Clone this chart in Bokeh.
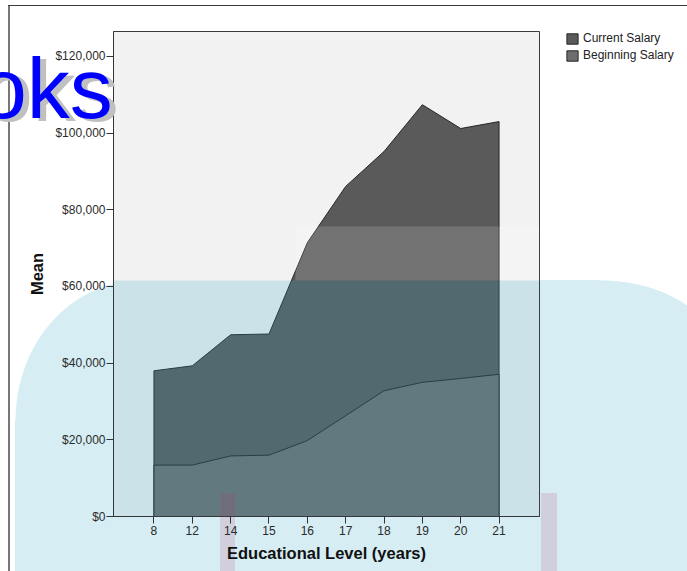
from bokeh.plotting import figure
from bokeh.layouts import column
from bokeh.models import (FixedTicker, NumeralTickFormatter, Legend, LegendItem,
                          Range1d, BoxAnnotation, Div)
from bokeh.embed import file_html
from bokeh.resources import INLINE

# ---- data ----
levels = ["8", "12", "14", "15", "16", "17", "18", "19", "20", "21"]
current_salary = [38000, 39300, 47400, 47600, 71400, 86100, 95200, 107400, 101200, 103000]
beginning_salary = [13400, 13400, 15800, 16000, 19800, 26300, 32800, 35000, 36000, 37100]
y_ticks = [0, 20000, 40000, 60000, 80000, 100000, 120000]

FONT = "Liberation Sans"
xi = list(range(len(levels)))

BLUE = "#d5edf3"
PINK = "rgba(192,60,110,0.17)"
bg_layers = [
    # pink stripes of the watermark
    f"linear-gradient({PINK},{PINK}) 220px 493px / 15px 100px no-repeat",
    f"linear-gradient({PINK},{PINK}) 541px 493px / 16px 100px no-repeat",
    # outer frame lines of the screenshot
    "linear-gradient(#3c3c3c,#3c3c3c) 8px 5px / 680px 1px no-repeat",
    "linear-gradient(#777777,#777777) 8px 5px / 2px 600px no-repeat",
    # light-blue rounded watermark
    f"radial-gradient(125px 140px at 140px 420px, {BLUE} 99%, rgba(213,237,243,0) 100%) 0 0 / 100% 100% no-repeat",
    f"radial-gradient(120px 80px at 600px 360px, {BLUE} 99%, rgba(213,237,243,0) 100%) 0 0 / 100% 100% no-repeat",
    f"linear-gradient({BLUE},{BLUE}) 140px 280px / 460px 300px no-repeat",
    f"linear-gradient({BLUE},{BLUE}) 15px 420px / 700px 200px no-repeat",
    f"linear-gradient({BLUE},{BLUE}) 600px 360px / 100px 300px no-repeat",
    "white",
]

p = figure(width=687, height=571, frame_width=426, frame_height=485,
           output_backend="svg", toolbar_location=None,
           x_range=Range1d(-1.055, len(levels) - 1 + 1.055),
           y_range=Range1d(0, 126500),
           styles={"background": ", ".join(bg_layers)})
p.min_border_left = 113
p.min_border_right = 148
p.min_border_top = 31
p.min_border_bottom = 55
p.background_fill_color = "#f2f2f2"
p.border_fill_alpha = 0
p.outline_line_color = "#3a3a3a"
p.outline_line_width = 1
p.xgrid.visible = False
p.ygrid.visible = False

# areas
xs = [xi[0]] + xi + [xi[-1]]
cur = p.patch(xs, [0] + current_salary + [0], fill_color="#5a5a5a",
              line_color="#262626", line_width=1)
beg = p.patch(xs, [0] + beginning_salary + [0], fill_color="#6e6e6e",
              line_color="#262626", line_width=1)

# axes
for ax in (p.xaxis[0], p.yaxis[0]):
    ax.major_tick_in = 0
    ax.major_tick_out = 7
    ax.minor_tick_line_color = None
    ax.axis_line_color = "#333333"
    ax.major_tick_line_color = "#333333"
    ax.major_label_text_font = FONT
    ax.major_label_text_font_size = "12px"
    ax.major_label_text_color = "#2b2b2b"
    ax.axis_label_text_font = FONT
    ax.axis_label_text_font_size = "16.5px"
    ax.axis_label_text_font_style = "bold"
    ax.axis_label_text_color = "#111111"

p.xaxis.ticker = FixedTicker(ticks=xi)
p.xaxis.major_label_overrides = {i: lab for i, lab in zip(xi, levels)}
p.xaxis.axis_label = "Educational Level (years)"
p.xaxis.major_label_standoff = 2
p.xaxis.axis_label_standoff = 6

p.yaxis.ticker = FixedTicker(ticks=y_ticks)
p.yaxis.formatter = NumeralTickFormatter(format="$0,0")
p.yaxis.axis_label = "Mean"
p.yaxis.major_label_standoff = 1
p.yaxis.axis_label_standoff = 6

# legend (outside the frame, right panel)
legend = Legend(items=[LegendItem(label="Current Salary", renderers=[cur]),
                       LegendItem(label="Beginning Salary", renderers=[beg])],
                location=(26, 454), padding=0, margin=0, spacing=3,
                glyph_width=14, glyph_height=13, label_standoff=4,
                label_height=13, border_line_color=None,
                background_fill_alpha=0, label_text_font=FONT,
                label_text_font_size="12px", label_text_color="#222222")
p.add_layout(legend, "right")

# watermark parts inside the frame
p.add_layout(BoxAnnotation(left=295, top=226, bottom=280,
                           left_units="canvas", top_units="canvas", bottom_units="canvas",
                           fill_color="white", fill_alpha=0.15, line_alpha=0,
                           level="overlay"))
p.add_layout(BoxAnnotation(top=280, top_units="canvas",
                           fill_color="#31a7c4", fill_alpha=0.2, line_alpha=0,
                           level="overlay"))
p.add_layout(BoxAnnotation(left=220, right=235, top=493,
                           left_units="canvas", right_units="canvas", top_units="canvas",
                           fill_color="#c03c6e", fill_alpha=0.17, line_alpha=0,
                           level="overlay"))

wm = Div(text="oks", width=160, height=100,
         styles={"position": "absolute", "left": "-26px", "top": "40px",
                 "font-family": "'Liberation Sans'", "font-size": "86px",
                 "line-height": "1", "color": "#0000ff", "overflow": "visible",
                 "text-shadow": "6px 3px 0 #c0c0c0", "z-index": "10",
                 "white-space": "nowrap"})

layout = column(p, wm, styles={"position": "relative"})
open("out.html", "w").write(file_html(layout, INLINE))
